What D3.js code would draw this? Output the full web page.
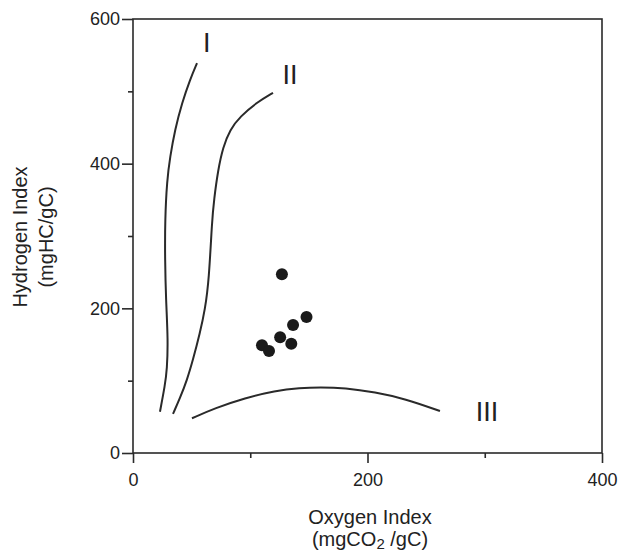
<!DOCTYPE html>
<html lang="en">
    <head>
        <meta charset="UTF-8" />
        <title>Hydrogen Index vs Oxygen Index</title>
        <script src="https://cdn.jsdelivr.net/npm/d3@7"></script>
        <style>
            body { margin: 0; background: #fff; }
            text { font-family: "Liberation Sans", Arial, sans-serif; fill: #222; }
        </style>
    </head>
    <body>
        <div id="chart"></div>
        <script>
            // samples (oxygen index, hydrogen index)
            const oxygenIndex = [127, 148, 136.5, 125.5, 135, 110, 116];
            const hydrogenIndex = [247, 188, 177, 160, 151, 149, 141];

            // kerogen type boundaries [OI, HI]
            const typeI = [[54.6, 539], [48.6, 516], [41.8, 484], [35.8, 447], [31.6, 409], [29, 377],
                           [27.3, 322], [27.3, 267], [28.1, 212], [29.9, 156], [29, 115], [27.3, 94], [23, 57]];
            const typeII = [[119.4, 498], [105.8, 485], [91.3, 465], [82.7, 447], [76.8, 423], [72.5, 391],
                            [69.1, 350], [67.4, 322], [64.8, 239], [61.4, 198], [57.1, 166], [51.2, 129],
                            [46.1, 101], [40.1, 76], [34.1, 54]];
            const typeIII = [[50.3, 48], [69.9, 62], [95.5, 76], [121.1, 86], [142.4, 90], [159.5, 91],
                             [180.8, 90], [206.4, 84], [232, 75], [261.8, 58]];

            const curveLabels = ["I", "II", "III"];
            const labelAt = [[63, 564], [134, 520], [302, 54]];

            const xMajor = [0, 200, 400];
            const xMinor = [100, 300];
            const yMajor = [0, 200, 400, 600];
            const yMinor = [100, 300, 500];

            const w = 618;
            const h = 554;
            const plotLeft = 133, plotRight = 602, plotTop = 19, plotBottom = 453;
            const ink = "#2a2a2a";

            const xScale = d3.scaleLinear([0, 400], [plotLeft, plotRight]);
            const yScale = d3.scaleLinear([0, 600], [plotBottom, plotTop]);

            const svg = d3.select("#chart")
                          .append("svg")
                          .attr("width", w)
                          .attr("height", h);

            // frame
            svg.append("rect")
                .attr("x", plotLeft)
                .attr("y", plotTop)
                .attr("width", plotRight - plotLeft)
                .attr("height", plotBottom - plotTop)
                .attr("fill", "none")
                .attr("stroke", ink)
                .attr("stroke-width", 1.6);

            // axes
            const styleAxis = g => {
                g.select(".domain").remove();
                g.selectAll("line").attr("stroke", ink).attr("stroke-width", 1.6);
                g.selectAll("text").style("font-size", "18px").attr("fill", ink);
            };

            svg.append("g")
                .attr("transform", "translate(0," + plotBottom + ")")
                .call(d3.axisBottom(xScale).tickValues(xMajor).tickSize(10).tickPadding(10).tickFormat(d3.format("d")))
                .call(styleAxis);
            svg.append("g")
                .attr("transform", "translate(0," + plotBottom + ")")
                .call(d3.axisBottom(xScale).tickValues(xMinor).tickSize(5).tickFormat(""))
                .call(styleAxis);

            svg.append("g")
                .attr("transform", "translate(" + plotLeft + ",0)")
                .call(d3.axisLeft(yScale).tickValues(yMajor).tickSize(11).tickPadding(2).tickFormat(d3.format("d")))
                .call(styleAxis);
            svg.append("g")
                .attr("transform", "translate(" + plotLeft + ",0)")
                .call(d3.axisLeft(yScale).tickValues(yMinor).tickSize(5).tickFormat(""))
                .call(styleAxis);

            // boundary curves
            const line = d3.line()
                .x(d => xScale(d[0]))
                .y(d => yScale(d[1]))
                .curve(d3.curveBasis);

            svg.selectAll("path.kerogen")
                .data([typeI, typeII, typeIII])
                .enter()
                .append("path")
                .classed("kerogen", true)
                .attr("d", line)
                .attr("fill", "none")
                .attr("stroke", ink)
                .attr("stroke-width", 2);

            svg.selectAll("text.kerogen-label")
                .data(curveLabels)
                .enter()
                .append("text")
                .classed("kerogen-label", true)
                .attr("x", (d, i) => xScale(labelAt[i][0]))
                .attr("y", (d, i) => yScale(labelAt[i][1]))
                .attr("text-anchor", "middle")
                .attr("dominant-baseline", "middle")
                .style("font-size", "27px")
                .text(d => d);

            // samples
            svg.selectAll("circle")
                .data(oxygenIndex)
                .enter()
                .append("circle")
                .attr("cx", d => xScale(d))
                .attr("cy", (d, i) => yScale(hydrogenIndex[i]))
                .attr("r", 6)
                .attr("fill", "#1a1a1a");

            // axis titles
            const xTitle = svg.append("text")
                .attr("x", 370)
                .attr("text-anchor", "middle")
                .style("font-size", "20px");
            xTitle.append("tspan").attr("x", 370).attr("y", 524).text("Oxygen Index");
            const sub = xTitle.append("tspan").attr("x", 370).attr("y", 546);
            sub.append("tspan").text("(mgCO");
            sub.append("tspan").attr("dy", 3).style("font-size", "15px").text("2");
            sub.append("tspan").attr("dy", -3).text(" /gC)");

            const yTitle = svg.append("text")
                .attr("transform", "translate(0,237) rotate(-90)")
                .attr("text-anchor", "middle")
                .style("font-size", "20px");
            yTitle.append("tspan").attr("x", 0).attr("y", 27).text("Hydrogen Index");
            yTitle.append("tspan").attr("x", 0).attr("y", 53).text("(mgHC/gC)");
        </script>
    </body>
</html>
